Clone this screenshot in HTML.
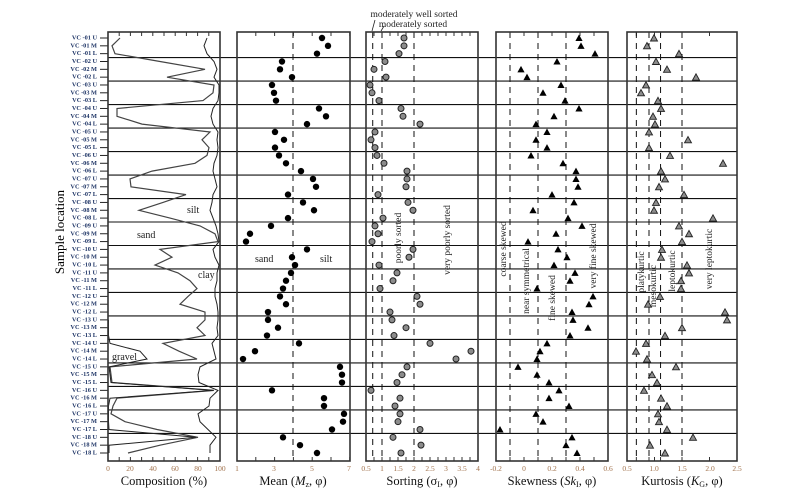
<!DOCTYPE html>
<html><head><meta charset="utf-8"><style>
body{margin:0;background:#fff}
svg{display:block;font-family:"Liberation Serif",serif}
.rl{font-size:6.3px;font-weight:bold;fill:#1f3566;text-anchor:end;dominant-baseline:middle}
.tl{font-size:7.5px;fill:#a0704a;text-anchor:middle}
.ti{font-size:12.5px;fill:#111;text-anchor:middle}
.lb{font-size:9.5px;fill:#222}
</style></head><body>
<svg id="s" width="800" height="501" viewBox="0 0 800 501" xmlns="http://www.w3.org/2000/svg">
<g id="g"></g>
<g id="rows">
<text class="rl" x="97" y="38.0">VC -01 U</text><text class="rl" x="97" y="45.8">VC -01 M</text><text class="rl" x="97" y="53.7">VC -01 L</text>
<text class="rl" x="97" y="61.5">VC -02 U</text><text class="rl" x="97" y="69.3">VC -02 M</text><text class="rl" x="97" y="77.2">VC -02 L</text>
<text class="rl" x="97" y="85.0">VC -03 U</text><text class="rl" x="97" y="92.8">VC -03 M</text><text class="rl" x="97" y="100.6">VC -03 L</text>
<text class="rl" x="97" y="108.5">VC -04 U</text><text class="rl" x="97" y="116.3">VC -04 M</text><text class="rl" x="97" y="124.1">VC -04 L</text>
<text class="rl" x="97" y="132.0">VC -05 U</text><text class="rl" x="97" y="139.8">VC -05 M</text><text class="rl" x="97" y="147.6">VC -05 L</text>
<text class="rl" x="97" y="155.5">VC -06 U</text><text class="rl" x="97" y="163.3">VC -06 M</text><text class="rl" x="97" y="171.1">VC -06 L</text>
<text class="rl" x="97" y="178.9">VC -07 U</text><text class="rl" x="97" y="186.8">VC -07 M</text><text class="rl" x="97" y="194.6">VC -07 L</text>
<text class="rl" x="97" y="202.4">VC -08 U</text><text class="rl" x="97" y="210.3">VC -08 M</text><text class="rl" x="97" y="218.1">VC -08 L</text>
<text class="rl" x="97" y="225.9">VC -09 U</text><text class="rl" x="97" y="233.8">VC -09 M</text><text class="rl" x="97" y="241.6">VC -09 L</text>
<text class="rl" x="97" y="249.4">VC -10 U</text><text class="rl" x="97" y="257.2">VC -10 M</text><text class="rl" x="97" y="265.1">VC -10 L</text>
<text class="rl" x="97" y="272.9">VC -11 U</text><text class="rl" x="97" y="280.7">VC -11 M</text><text class="rl" x="97" y="288.6">VC -11 L</text>
<text class="rl" x="97" y="296.4">VC -12 U</text><text class="rl" x="97" y="304.2">VC -12 M</text><text class="rl" x="97" y="312.1">VC -12 L</text>
<text class="rl" x="97" y="319.9">VC -13 U</text><text class="rl" x="97" y="327.7">VC -13 M</text><text class="rl" x="97" y="335.5">VC -13 L</text>
<text class="rl" x="97" y="343.4">VC -14 U</text><text class="rl" x="97" y="351.2">VC -14 M</text><text class="rl" x="97" y="359.0">VC -14 L</text>
<text class="rl" x="97" y="366.9">VC -15 U</text><text class="rl" x="97" y="374.7">VC -15 M</text><text class="rl" x="97" y="382.5">VC -15 L</text>
<text class="rl" x="97" y="390.4">VC -16 U</text><text class="rl" x="97" y="398.2">VC -16 M</text><text class="rl" x="97" y="406.0">VC -16 L</text>
<text class="rl" x="97" y="413.8">VC -17 U</text><text class="rl" x="97" y="421.7">VC -17 M</text><text class="rl" x="97" y="429.5">VC -17 L</text>
<text class="rl" x="97" y="437.3">VC -18 U</text><text class="rl" x="97" y="445.2">VC -18 M</text><text class="rl" x="97" y="453.0">VC -18 L</text>
</g>
<text x="64" y="232" transform="rotate(-90 64 232)" style="font-size:13px;text-anchor:middle">Sample location</text>
<g class="tl">
<text x="108" y="471">0</text><text x="130" y="471">20</text><text x="153" y="471">40</text><text x="175" y="471">60</text><text x="198" y="471">80</text><text x="220" y="471">100</text>
<text x="237" y="471">1</text><text x="274" y="471">3</text><text x="312" y="471">5</text><text x="349" y="471">7</text>
<text x="366" y="471">0.5</text><text x="382" y="471">1</text><text x="398" y="471">1.5</text><text x="414" y="471">2</text><text x="430" y="471">2.5</text><text x="446" y="471">3</text><text x="462" y="471">3.5</text><text x="478" y="471">4</text>
<text x="496" y="471">-0.2</text><text x="524" y="471">0</text><text x="552" y="471">0.2</text><text x="580" y="471">0.4</text><text x="608" y="471">0.6</text>
<text x="627" y="471">0.5</text><text x="654" y="471">1.0</text><text x="682" y="471">1.5</text><text x="710" y="471">2.0</text><text x="737" y="471">2.5</text>
</g>
<g class="ti">
<text x="164" y="485">Composition (%)</text>
<text x="293" y="485">Mean (<tspan font-style="italic">M</tspan><tspan font-size="8" dy="2">z</tspan><tspan dy="-2">, φ)</tspan></text>
<text x="422" y="485">Sorting (σ<tspan font-size="8" dy="2">I</tspan><tspan dy="-2">, φ)</tspan></text>
<text x="552" y="485">Skewness (<tspan font-style="italic">Sk</tspan><tspan font-size="8" dy="2">I</tspan><tspan dy="-2">, φ)</tspan></text>
<text x="682" y="485">Kurtosis (<tspan font-style="italic">K</tspan><tspan font-size="8" dy="2">G</tspan><tspan dy="-2">, φ)</tspan></text>
</g>
<g class="lb">
<text x="137" y="238" font-size="10">sand</text><text x="187" y="213" font-size="10">silt</text><text x="198" y="278" font-size="10">clay</text><text x="112" y="360" font-size="10">gravel</text>
<text x="255" y="262" font-size="10">sand</text><text x="320" y="262" font-size="10">silt</text>
<text x="414" y="17" text-anchor="middle">moderately well sorted</text>
<text x="413" y="27" text-anchor="middle">moderately sorted</text>
<text transform="translate(401 238) rotate(-90)" text-anchor="middle">poorly sorted</text>
<text transform="translate(450 240) rotate(-90)" text-anchor="middle">very poorly sorted</text>
<text transform="translate(506 249) rotate(-90)" text-anchor="middle">coarse skewed</text>
<text transform="translate(529 281) rotate(-90)" text-anchor="middle">near symmetrical</text>
<text transform="translate(555 298) rotate(-90)" text-anchor="middle">fine skewed</text>
<text transform="translate(596 256) rotate(-90)" text-anchor="middle">very fine skewed</text>
<text transform="translate(644 272) rotate(-90)" text-anchor="middle">platykurtic</text>
<text transform="translate(656 286) rotate(-90)" text-anchor="middle">mesokurtic</text>
<text transform="translate(675 271) rotate(-90)" text-anchor="middle">leptokurtic</text>
<text transform="translate(712 259) rotate(-90)" text-anchor="middle">very leptokurtic</text>
</g>
<line x1="372" y1="31" x2="375" y2="20" stroke="#222" stroke-width="0.8"/>
<line x1="381" y1="31" x2="384" y2="26" stroke="#222" stroke-width="0.8"/>
</svg>
<script>
var NS="http://www.w3.org/2000/svg",g=document.getElementById("g");
function el(t,a){var e=document.createElementNS(NS,t);for(var k in a)e.setAttribute(k,a[k]);g.appendChild(e);return e;}
function Y(i){return 38+7.83*i;}
var T=32,B=461;
var P=[[108,220],[237,350],[366,478],[496,608],[627,737]];
for(var i=0;i<54;i++)el("line",{x1:100,x2:108,y1:Y(i),y2:Y(i),stroke:"#222","stroke-width":1});
for(var k=1;k<18;k++){var y=38+(3*k-0.5)*7.83;el("line",{x1:108,x2:737,y1:y,y2:y,stroke:"#111","stroke-width":1.1});}
function tick(x,big){el("line",{x1:x,x2:x,y1:T,y2:T+(big?4:3),stroke:"#333","stroke-width":1});el("line",{x1:x,x2:x,y1:B,y2:B-(big?4:3),stroke:"#333","stroke-width":1});}
for(var v=0;v<=100;v+=10)tick(108+1.12*v,1);
for(v=1;v<=7;v+=1)tick(237+18.8*(v-1),1);
for(v=0.5;v<=4;v+=0.25)tick(366+32*(v-0.5),1);
for(v=-0.2;v<=0.61;v+=0.1)tick(496+140*(v+0.2),1);
[0.67,0.9,1.11,1.5,2,2.5,1.0].forEach(function(v){tick(627+55*(v-0.5),1);});
function dash(x){el("line",{x1:x,x2:x,y1:T,y2:B,stroke:"#111","stroke-width":1,"stroke-dasharray":"6,5"});}
dash(293);[0.71,1,2].forEach(function(v){dash(366+32*(v-0.5));});
[-0.1,0.1,0.3].forEach(function(v){dash(496+140*(v+0.2));});
[0.67,0.9,1.11,1.5].forEach(function(v){dash(627+55*(v-0.5));});
var silt=[207,204,207,214,217,214,219,219,218,213,211,213,218,217,218,217,214,213,215,217,213,212,210,213,216,218,219,213,215,219,217,217,215,215,217,218,218,217,218,212,214,216,200,198,199,218,210,209,198,200,208,216,210,210];
var sand=[120,112,115,160,205,167,214,213,203,117,117,142,210,202,209,207,195,152,130,131,186,163,139,170,200,215,218,160,172,155,178,190,197,188,180,205,205,197,205,163,179,197,110,111,112,214,117,113,111,125,157,198,160,128];
var grav=[];for(i=0;i<54;i++)grav.push(108.5);
grav[39]=110;grav[40]=140;grav[41]=147;grav[42]=109;grav[43]=110;grav[44]=111;grav[45]=213;grav[46]=110;grav[50]=109;grav[51]=196;grav[52]=109;grav[53]=109;
function pl(a,c,w,s,e){var p=[];for(var i=s;i<=e;i++)p.push(a[i]+","+Y(i).toFixed(1));el("polyline",{points:p.join(" "),fill:"none",stroke:c,"stroke-width":w});}
pl(silt,"#222",1,0,53);pl(sand,"#444",1.2,0,53);pl(grav,"#222",1,36,53);
var mean=[322,328,317,282,280,292,272,274,276,319,326,307,275,284,275,279,286,301,313,316,288,303,314,288,271,250,246,307,292,295,291,286,283,280,286,268,268,278,267,299,255,243,340,342,342,272,324,324,344,343,332,283,300,317];
var sort=[404,404,399,385,374,386,370,372,379,401,403,420,375,371,375,377,384,407,407,406,378,408,413,383,375,378,372,413,409,379,397,393,380,417,420,390,392,406,394,430,471,456,407,402,397,371,400,395,400,398,420,393,421,401];
var skew=[579,581,595,557,521,527,561,543,565,579,554,536,547,536,547,531,563,576,576,578,552,574,533,568,582,556,528,558,567,554,575,570,537,593,589,572,573,588,570,547,540,537,518,537,549,559,549,569,536,543,500,572,566,577];
var kurt=[654,647,679,656,667,696,646,641,658,661,653,655,649,688,649,670,723,661,665,659,684,656,654,713,679,689,682,662,661,687,689,681,681,660,648,725,727,682,665,646,636,647,676,652,657,644,661,667,658,659,667,693,650,665];
for(i=0;i<54;i++){var y=Y(i);
el("circle",{cx:mean[i],cy:y,r:3.2,fill:"#000"});
el("circle",{cx:sort[i],cy:y,r:3.0,fill:"#8c8c8c",stroke:"#222","stroke-width":1});
var x=skew[i];el("polygon",{points:(x-3.6)+","+(y+3)+" "+(x+3.6)+","+(y+3)+" "+x+","+(y-3.5),fill:"#000"});
x=kurt[i];el("polygon",{points:(x-3.5)+","+(y+3)+" "+(x+3.5)+","+(y+3)+" "+x+","+(y-3.3),fill:"#8c8c8c",stroke:"#222","stroke-width":0.9});}
P.forEach(function(p){el("rect",{x:p[0],y:T,width:p[1]-p[0],height:B-T,fill:"none",stroke:"#333","stroke-width":1.6});});
</script>
</body></html>
